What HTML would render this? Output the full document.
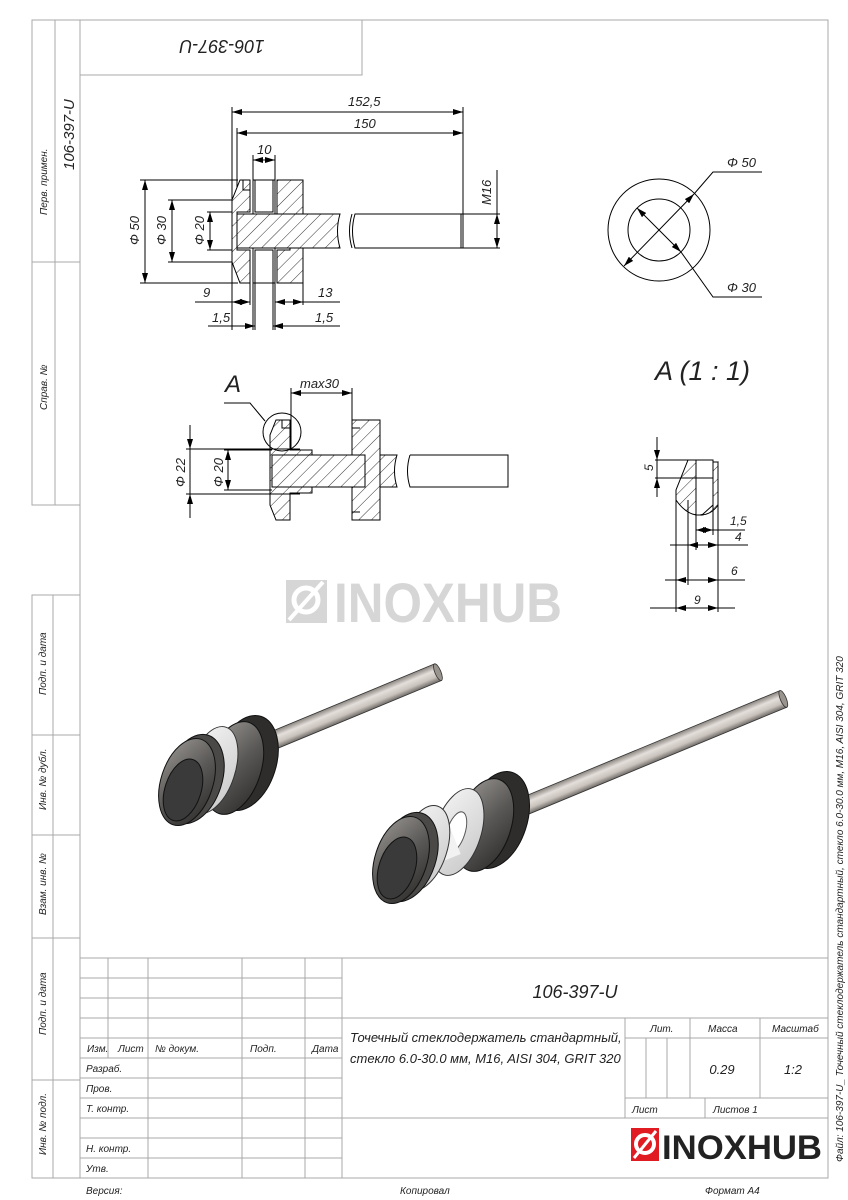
<!DOCTYPE html>
<html><head><meta charset="utf-8"><style>
html,body{margin:0;padding:0;background:#fff;}
svg{display:block;}
text{font-family:"Liberation Sans","DejaVu Sans",sans-serif;font-style:italic;fill:#222;}
</style></head><body>
<svg width="848" height="1200" viewBox="0 0 848 1200" xmlns="http://www.w3.org/2000/svg">
<defs>
<pattern id="h" patternUnits="userSpaceOnUse" width="9" height="9" patternTransform="rotate(45)">
<rect width="9" height="9" fill="#fff"/><line x1="0" y1="0" x2="0" y2="9" stroke="#000" stroke-width="0.8"/>
</pattern>
<marker id="a" viewBox="0 0 10 6" refX="10" refY="3" markerWidth="10" markerHeight="6" markerUnits="userSpaceOnUse" orient="auto-start-reverse"><path d="M0,0L10,3L0,6z" fill="#000"/></marker>
<linearGradient id="rod" x1="0" y1="0" x2="0" y2="1"><stop offset="0" stop-color="#8a847f"/><stop offset=".35" stop-color="#e4dfda"/><stop offset=".7" stop-color="#c9c2bc"/><stop offset="1" stop-color="#6e6a66"/></linearGradient>
<linearGradient id="dk" x1="0" y1="0" x2="1" y2="1"><stop offset="0" stop-color="#9a9794"/><stop offset=".5" stop-color="#5a5856"/><stop offset="1" stop-color="#2a2928"/></linearGradient>
<linearGradient id="wh" x1="0" y1="0" x2="1" y2="1"><stop offset="0" stop-color="#f4f4f4"/><stop offset="1" stop-color="#c8c8c8"/></linearGradient>
</defs>

<!-- frame -->
<g stroke="#a8a8a8" stroke-width="1" fill="none">
<rect x="80" y="20" width="748" height="1158"/>
<rect x="80" y="20" width="282" height="55"/>
<rect x="32" y="20" width="48" height="485"/>
<line x1="55" y1="20" x2="55" y2="505"/>
<line x1="32" y1="262" x2="80" y2="262"/>
<rect x="32" y="595" width="48" height="583"/>
<line x1="53" y1="595" x2="53" y2="1178"/>
<line x1="32" y1="735" x2="80" y2="735"/>
<line x1="32" y1="835" x2="80" y2="835"/>
<line x1="32" y1="938" x2="80" y2="938"/>
<line x1="32" y1="1080" x2="80" y2="1080"/>
<line x1="80" y1="958" x2="828" y2="958"/>
<line x1="80" y1="978" x2="342" y2="978"/>
<line x1="80" y1="998" x2="342" y2="998"/>
<line x1="80" y1="1018" x2="828" y2="1018"/>
<line x1="80" y1="1038" x2="342" y2="1038"/>
<line x1="80" y1="1058" x2="342" y2="1058"/>
<line x1="80" y1="1078" x2="342" y2="1078"/>
<line x1="80" y1="1098" x2="342" y2="1098"/>
<line x1="80" y1="1118" x2="828" y2="1118"/>
<line x1="80" y1="1138" x2="342" y2="1138"/>
<line x1="80" y1="1158" x2="342" y2="1158"/>
<line x1="108" y1="958" x2="108" y2="1058"/>
<line x1="148" y1="958" x2="148" y2="1178"/>
<line x1="242" y1="958" x2="242" y2="1178"/>
<line x1="305" y1="958" x2="305" y2="1178"/>
<line x1="342" y1="958" x2="342" y2="1178"/>
<line x1="625" y1="1018" x2="625" y2="1118"/>
<line x1="690" y1="1018" x2="690" y2="1098"/>
<line x1="760" y1="1018" x2="760" y2="1098"/>
<line x1="625" y1="1038" x2="828" y2="1038"/>
<line x1="625" y1="1098" x2="828" y2="1098"/>
<line x1="646" y1="1038" x2="646" y2="1098"/>
<line x1="667" y1="1038" x2="667" y2="1098"/>
<line x1="705" y1="1098" x2="705" y2="1118"/>
</g>
<g font-size="10">
<text transform="translate(47,215) rotate(-90)">Перв. примен.</text>
<text transform="translate(74,170) rotate(-90)" font-size="15">106-397-U</text>
<text transform="translate(47,410) rotate(-90)">Справ. №</text>
<text transform="translate(46,695) rotate(-90)">Подп. и дата</text>
<text transform="translate(46,810) rotate(-90)">Инв. № дубл.</text>
<text transform="translate(46,915) rotate(-90)">Взам. инв. №</text>
<text transform="translate(46,1035) rotate(-90)">Подп. и дата</text>
<text transform="translate(46,1155) rotate(-90)">Инв. № подл.</text>
<text x="87" y="1052">Изм.</text><text x="118" y="1052">Лист</text><text x="155" y="1052">№ докум.</text><text x="250" y="1052">Подп.</text><text x="312" y="1052">Дата</text>
<text x="86" y="1072">Разраб.</text><text x="86" y="1092">Пров.</text><text x="86" y="1112">Т. контр.</text><text x="86" y="1152">Н. контр.</text><text x="86" y="1172">Утв.</text>
<text x="650" y="1032">Лит.</text><text x="708" y="1032">Масса</text><text x="772" y="1032">Масштаб</text>
<text x="632" y="1113">Лист</text><text x="713" y="1113">Листов 1</text>
<text x="86" y="1194">Версия:</text><text x="400" y="1194">Копировал</text><text x="705" y="1194">Формат A4</text>
<text transform="translate(843,1162) rotate(-90)" font-size="10">Файл: 106-397-U_ Точечный стеклодержатель стандартный, стекло 6.0-30.0 мм, M16, AISI 304, GRIT 320</text>
</g>
<text x="575" y="998" font-size="18" text-anchor="middle">106-397-U</text>
<text x="350" y="1042" font-size="13">Точечный стеклодержатель стандартный,</text>
<text x="350" y="1063" font-size="13">стекло 6.0-30.0 мм, M16, AISI 304, GRIT 320</text>
<text x="722" y="1074" font-size="13" text-anchor="middle">0.29</text>
<text x="793" y="1074" font-size="13" text-anchor="middle">1:2</text>
<text transform="translate(222,40) rotate(180)" font-size="18" text-anchor="middle">106-397-U</text>

<rect x="631" y="1128" width="28" height="33" fill="#e01b22"/>
<circle cx="645" cy="1144" r="9" fill="none" stroke="#fff" stroke-width="4"/>
<line x1="634" y1="1158" x2="656" y2="1131" stroke="#fff" stroke-width="3"/>
<text x="662" y="1159" font-size="34" font-weight="bold" style="font-style:normal;fill:#222" textLength="160" lengthAdjust="spacingAndGlyphs">INOXHUB</text>

<rect x="286" y="580" width="41" height="43" fill="#d6d6d6"/>
<circle cx="306" cy="600" r="12" fill="none" stroke="#fff" stroke-width="5"/>
<line x1="289" y1="620" x2="323" y2="582" stroke="#fff" stroke-width="4"/>
<text x="334" y="622" font-size="56" font-weight="bold" style="font-style:normal;fill:#d6d6d6" textLength="228" lengthAdjust="spacingAndGlyphs">INOXHUB</text>

<!-- TOP VIEW -->
<g stroke="#000" stroke-width="1" fill="none">
<line x1="232" y1="107" x2="232" y2="330"/>
<line x1="237" y1="128" x2="237" y2="214"/>
<line x1="463" y1="107" x2="463" y2="248"/>
<line x1="232" y1="112" x2="463" y2="112" marker-start="url(#a)" marker-end="url(#a)"/>
<line x1="237" y1="133" x2="463" y2="133" marker-start="url(#a)" marker-end="url(#a)"/>
<line x1="253" y1="155" x2="253" y2="180"/><line x1="275" y1="155" x2="275" y2="180"/>
<line x1="253" y1="160" x2="275" y2="160" marker-start="url(#a)" marker-end="url(#a)"/>
<line x1="140" y1="180" x2="238" y2="180"/><line x1="140" y1="283" x2="238" y2="283"/>
<line x1="145" y1="180" x2="145" y2="283" marker-start="url(#a)" marker-end="url(#a)"/>
<line x1="168" y1="200" x2="232" y2="200"/><line x1="168" y1="262" x2="232" y2="262"/>
<line x1="172" y1="200" x2="172" y2="262" marker-start="url(#a)" marker-end="url(#a)"/>
<line x1="207" y1="212" x2="237" y2="212"/><line x1="207" y1="250" x2="237" y2="250"/>
<line x1="210" y1="212" x2="210" y2="250" marker-start="url(#a)" marker-end="url(#a)"/>
<line x1="463" y1="214" x2="500" y2="214"/><line x1="463" y1="248" x2="500" y2="248"/>
<line x1="497" y1="170" x2="497" y2="248"/>
<line x1="497" y1="214" x2="497" y2="248" marker-start="url(#a)" marker-end="url(#a)"/>
<line x1="250" y1="283" x2="250" y2="305"/><line x1="303" y1="283" x2="303" y2="305"/><line x1="275" y1="283" x2="275" y2="330"/>
<line x1="253" y1="283" x2="253" y2="330"/><line x1="255" y1="283" x2="255" y2="330"/><line x1="273" y1="283" x2="273" y2="330"/>
<line x1="195" y1="302" x2="250" y2="302"/><line x1="232" y1="302" x2="250" y2="302" marker-start="url(#a)" marker-end="url(#a)"/>
<line x1="275" y1="302" x2="340" y2="302"/><line x1="275" y1="302" x2="303" y2="302" marker-start="url(#a)" marker-end="url(#a)"/>
<line x1="208" y1="326" x2="255" y2="326" marker-end="url(#a)"/>
<line x1="340" y1="326" x2="273" y2="326" marker-end="url(#a)"/>
<path d="M240,180 L250,180 L250,212 L237,212 L237,250 L250,250 L250,283 L240,283 L232,262 L232,200 Z" fill="url(#h)"/>
<path d="M243,180 L243,190 L250,190" />
<rect x="253" y="180" width="22" height="35"/><rect x="253" y="248" width="22" height="35"/>
<path d="M255,180 V212 H273 V180" /><path d="M255,283 V250 H273 V283"/>
<path d="M277,180 H303 V283 H277 V250 H290 V214 H277 Z" fill="url(#h)"/>
<path d="M277,180 V190 M277,273 V283"/>
<path d="M237,214 H340 Q335,231 340,248 H237 Z" fill="url(#h)"/>
<path d="M352,214 Q347,231 352,248 M355,214 H463 V248 H355 Q350,231 355,214 Z" fill="#fff"/>
<line x1="461" y1="214" x2="461" y2="248"/>
</g>
<g font-size="13">
<text x="348" y="106">152,5</text><text x="354" y="128">150</text><text x="257" y="154">10</text>
<text transform="translate(139,245) rotate(-90)">Φ 50</text>
<text transform="translate(166,245) rotate(-90)">Φ 30</text>
<text transform="translate(204,245) rotate(-90)">Φ 20</text>
<text transform="translate(491,205) rotate(-90)">M16</text>
<text x="203" y="297">9</text><text x="318" y="297">13</text>
<text x="212" y="322">1,5</text><text x="315" y="322">1,5</text>
</g>

<g stroke="#000" stroke-width="1" fill="none">
<circle cx="659" cy="230" r="51"/><circle cx="659" cy="230" r="31"/>
<line x1="624" y1="266" x2="694" y2="194" marker-start="url(#a)" marker-end="url(#a)"/>
<path d="M694,194 L713,172 H762"/>
<line x1="637" y1="208" x2="681" y2="252" marker-start="url(#a)" marker-end="url(#a)"/>
<path d="M681,252 L713,297 H762"/>
</g>
<text x="727" y="167" font-size="13">Φ 50</text><text x="727" y="292" font-size="13">Φ 30</text>
<text x="655" y="380" font-size="27">A (1 : 1)</text>

<g stroke="#000" stroke-width="1" fill="none">
<path d="M688,460 H696 V515 Q685,513 676,500 L676,490 Z" fill="url(#h)"/>
<path d="M696,460 H713 V478 H696"/>
<path d="M713,460 V465 L718,462 V505 Q710,515 700,515 H696"/>
<path d="M713,478 V505 Q708,514 700,515" />
<path d="M713,462 L718,462 V505 Q712,514 702,515 L713,505 Z" fill="url(#h)"/>
<line x1="655" y1="460" x2="700" y2="460"/><line x1="655" y1="478" x2="700" y2="478"/>
<line x1="657" y1="437" x2="657" y2="460" marker-end="url(#a)"/>
<line x1="657" y1="497" x2="657" y2="478" marker-end="url(#a)"/>
<line x1="657" y1="460" x2="657" y2="478"/>
<line x1="676" y1="500" x2="676" y2="612"/><line x1="688" y1="500" x2="688" y2="585"/>
<line x1="696" y1="515" x2="696" y2="550"/><line x1="713" y1="505" x2="713" y2="535"/><line x1="718" y1="505" x2="718" y2="612"/>
<line x1="696" y1="530" x2="713" y2="530" marker-start="url(#a)" marker-end="url(#a)"/>
<line x1="713" y1="530" x2="745" y2="530"/>
<line x1="670" y1="545" x2="748" y2="545"/>
<line x1="688" y1="545" x2="718" y2="545" marker-start="url(#a)" marker-end="url(#a)"/>
<line x1="665" y1="580" x2="745" y2="580"/>
<line x1="676" y1="580" x2="718" y2="580" marker-start="url(#a)" marker-end="url(#a)"/>
<line x1="650" y1="608" x2="735" y2="608"/>
<line x1="676" y1="608" x2="718" y2="608" marker-start="url(#a)" marker-end="url(#a)"/>
</g>
<g font-size="12">
<text transform="translate(653,471) rotate(-90)">5</text>
<text x="730" y="525">1,5</text><text x="735" y="541">4</text><text x="731" y="575">6</text><text x="694" y="604">9</text>
</g>

<g stroke="#000" stroke-width="1" fill="none">
<path d="M276,420 H290 V450 H312 V456 H290 V487 H312 V493 H290 V520 H276 L270,505 V435 Z" fill="url(#h)"/>
<path d="M282,420 V428 H290"/>
<path d="M272,455 H397 Q392,471 397,487 H272 Z" fill="url(#h)"/>
<path d="M410,455 H508 V487 H410 Q405,471 410,455"/>
<path d="M352,420 H380 V520 H352 V487 H365 V455 H352 Z" fill="url(#h)"/>
<path d="M352,428 H360 M352,512 H360"/>
<line x1="186" y1="449" x2="300" y2="449"/><line x1="186" y1="494" x2="300" y2="494"/>
<line x1="190" y1="425" x2="190" y2="449" marker-end="url(#a)"/>
<line x1="190" y1="518" x2="190" y2="494" marker-end="url(#a)"/>
<line x1="190" y1="449" x2="190" y2="494"/>
<line x1="224" y1="450" x2="272" y2="450"/><line x1="224" y1="490" x2="272" y2="490"/>
<line x1="228" y1="450" x2="228" y2="490" marker-start="url(#a)" marker-end="url(#a)"/>
<line x1="291" y1="388" x2="291" y2="450"/><line x1="352" y1="388" x2="352" y2="420"/>
<line x1="291" y1="393" x2="352" y2="393" marker-start="url(#a)" marker-end="url(#a)"/>
<circle cx="282" cy="432" r="19"/>
<path d="M224,403 H250 L265,421"/>
</g>
<text x="225" y="392" font-size="24">A</text>
<text x="300" y="388" font-size="13">max30</text>
<text transform="translate(185,487) rotate(-90)" font-size="13">Φ 22</text>
<text transform="translate(223,487) rotate(-90)" font-size="13">Φ 20</text>

<!-- 3D LEFT -->
<g>
<g transform="translate(255,748) rotate(-22.5)"><rect x="0" y="-9" width="198" height="18" fill="url(#rod)" stroke="#333" stroke-width=".8"/><ellipse cx="198" cy="0" rx="3" ry="9" fill="#9a948f" stroke="#333" stroke-width=".8"/></g>
<ellipse cx="246" cy="763" rx="30" ry="49" transform="rotate(18 246 763)" fill="#2e2d2c" stroke="#111"/>
<ellipse cx="234" cy="768" rx="27" ry="48" transform="rotate(18 234 768)" fill="url(#dk)" stroke="#111"/>
<ellipse cx="212" cy="770" rx="23" ry="45" transform="rotate(18 212 770)" fill="url(#wh)" stroke="#333"/>
<ellipse cx="205" cy="776" rx="10" ry="26" transform="rotate(18 205 776)" fill="#fff" stroke="#555"/>
<ellipse cx="194" cy="779" rx="28" ry="46" transform="rotate(18 194 779)" fill="#4a4948" stroke="#111"/>
<ellipse cx="187" cy="782" rx="26" ry="45" transform="rotate(18 187 782)" fill="url(#dk)" stroke="#111"/>
<ellipse cx="183" cy="790" rx="18" ry="32" transform="rotate(18 183 790)" fill="#3a3a3a" stroke="#111"/>
</g>
<!-- 3D RIGHT -->
<g>
<g transform="translate(520,808) rotate(-22.5)"><rect x="0" y="-9" width="285" height="18" fill="url(#rod)" stroke="#333" stroke-width=".8"/><ellipse cx="285" cy="0" rx="3" ry="9" fill="#9a948f" stroke="#333" stroke-width=".8"/></g>
<ellipse cx="497" cy="820" rx="30" ry="50" transform="rotate(18 497 820)" fill="#2e2d2c" stroke="#111"/>
<ellipse cx="484" cy="825" rx="27" ry="48" transform="rotate(18 484 825)" fill="url(#dk)" stroke="#111"/>
<ellipse cx="458" cy="832" rx="23" ry="45" transform="rotate(18 458 832)" fill="url(#wh)" stroke="#333"/>
<ellipse cx="456" cy="832" rx="9" ry="21" transform="rotate(18 456 832)" fill="#fff" stroke="#555"/>
<rect x="430" y="830" width="26" height="30" fill="#f2f2f2" transform="rotate(-22 443 845)"/>
<ellipse cx="424" cy="848" rx="23" ry="44" transform="rotate(18 424 848)" fill="url(#wh)" stroke="#333"/>
<ellipse cx="420" cy="852" rx="9" ry="21" transform="rotate(18 420 852)" fill="#fff" stroke="#555"/>
<ellipse cx="408" cy="857" rx="28" ry="46" transform="rotate(18 408 857)" fill="#4a4948" stroke="#111"/>
<ellipse cx="401" cy="860" rx="26" ry="45" transform="rotate(18 401 860)" fill="url(#dk)" stroke="#111"/>
<ellipse cx="397" cy="868" rx="18" ry="32" transform="rotate(18 397 868)" fill="#3a3a3a" stroke="#111"/>
</g>
</svg>
</body></html>
